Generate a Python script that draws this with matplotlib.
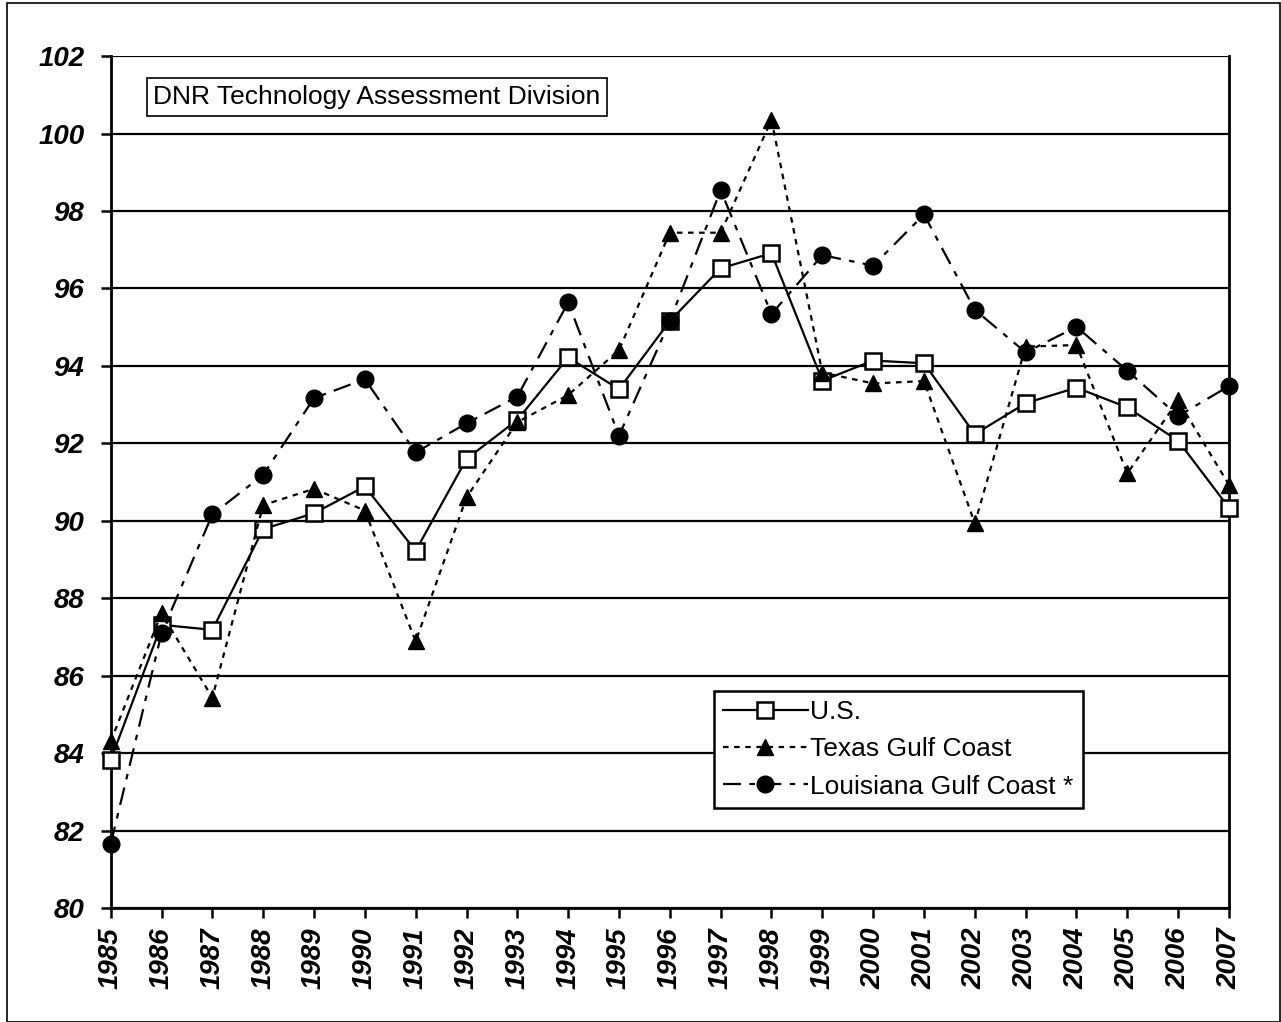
import matplotlib
matplotlib.use("Agg")
import matplotlib.pyplot as plt
from matplotlib.patches import Rectangle

plt.rcParams['font.family'] = ['Liberation Sans', 'DejaVu Sans']
plt.rcParams['lines.scale_dashes'] = False

# Data
years = list(range(1985, 2008))
us = [83.83, 87.32, 87.19, 89.79, 90.20, 90.89, 89.23, 91.60, 92.61, 94.22,
      93.40, 95.16, 96.52, 96.91, 93.62, 94.14, 94.07, 92.24, 93.04, 93.44,
      92.93, 92.07, 90.34]
texas = [84.31, 87.62, 85.44, 90.41, 90.83, 90.27, 86.89, 90.61, 92.55, 93.25,
         94.41, 97.44, 97.44, 100.35, 93.83, 93.55, 93.61, 89.94, 94.50, 94.54,
         91.23, 93.11, 90.93]
louisiana = [81.66, 87.10, 90.17, 91.19, 93.17, 93.66, 91.77, 92.52, 93.21, 95.64,
             92.20, 95.16, 98.54, 95.34, 96.86, 96.59, 97.91, 95.45, 94.35, 95.01,
             93.88, 92.71, 93.48]
yticks = list(range(80, 103, 2))

fig = plt.figure(figsize=(12.81, 10.22), dpi=100)
ax = fig.add_axes([0.0864, 0.1111, 0.8730, 0.8341])

# horizontal gridlines
for v in yticks:
    ax.axhline(v, color='black', lw=1.6, zorder=1)

ax.plot(years, us, color='black', lw=1.6, marker='s', ms=12, mfc='white',
        mec='black', mew=1.8, label='U.S.', clip_on=False, zorder=3)
ax.plot(years, texas, color='black', lw=1.6, marker='^', ms=12, mfc='black',
        mec='black', linestyle=(0, (4, 4)), label='Texas Gulf Coast',
        clip_on=False, zorder=4)
ax.plot(years, louisiana, color='black', lw=1.6, marker='o', ms=12, mfc='black',
        mec='black', linestyle=(0, (13, 6, 4, 6)), label='Louisiana Gulf Coast *',
        clip_on=False, zorder=5)

ax.set_xlim(1985, 2007)
ax.set_ylim(80, 102)
ax.set_xticks(years)
ax.set_xticklabels([str(y) for y in years], rotation=90, fontsize=20,
                   fontweight='bold', fontstyle='italic')
ax.set_yticks(yticks)
ax.set_yticklabels([str(v) for v in yticks], fontsize=20,
                   fontweight='bold', fontstyle='italic')
ax.tick_params(axis='both', direction='out', length=7, width=1.8, color='black')
ax.tick_params(axis='x', pad=7)
ax.tick_params(axis='y', pad=12)

for side in ['left', 'bottom', 'right']:
    ax.spines[side].set_linewidth(2)
ax.spines['top'].set_visible(False)

ax.text(0.038, 0.966, 'DNR Technology Assessment Division', transform=ax.transAxes,
        fontsize=19, va='top', ha='left', zorder=6,
        bbox=dict(boxstyle='square,pad=0.25', fc='white', ec='black', lw=1.2))

leg = ax.legend(loc='upper left', bbox_to_anchor=(0.5395, 0.2551), borderaxespad=0,
                fontsize=19, fancybox=False, edgecolor='black', framealpha=1,
                handlelength=3.2, handletextpad=0.1, labelspacing=0.5,
                borderpad=0.35)
leg.get_frame().set_linewidth(1.8)
leg.set_zorder(10)

# outer border around the chart
fig.patches.append(Rectangle((0.0055, 0.0), 0.9935, 0.997, transform=fig.transFigure,
                             fill=False, ec='black', lw=1.2))

fig.savefig('out.png', dpi=100)
